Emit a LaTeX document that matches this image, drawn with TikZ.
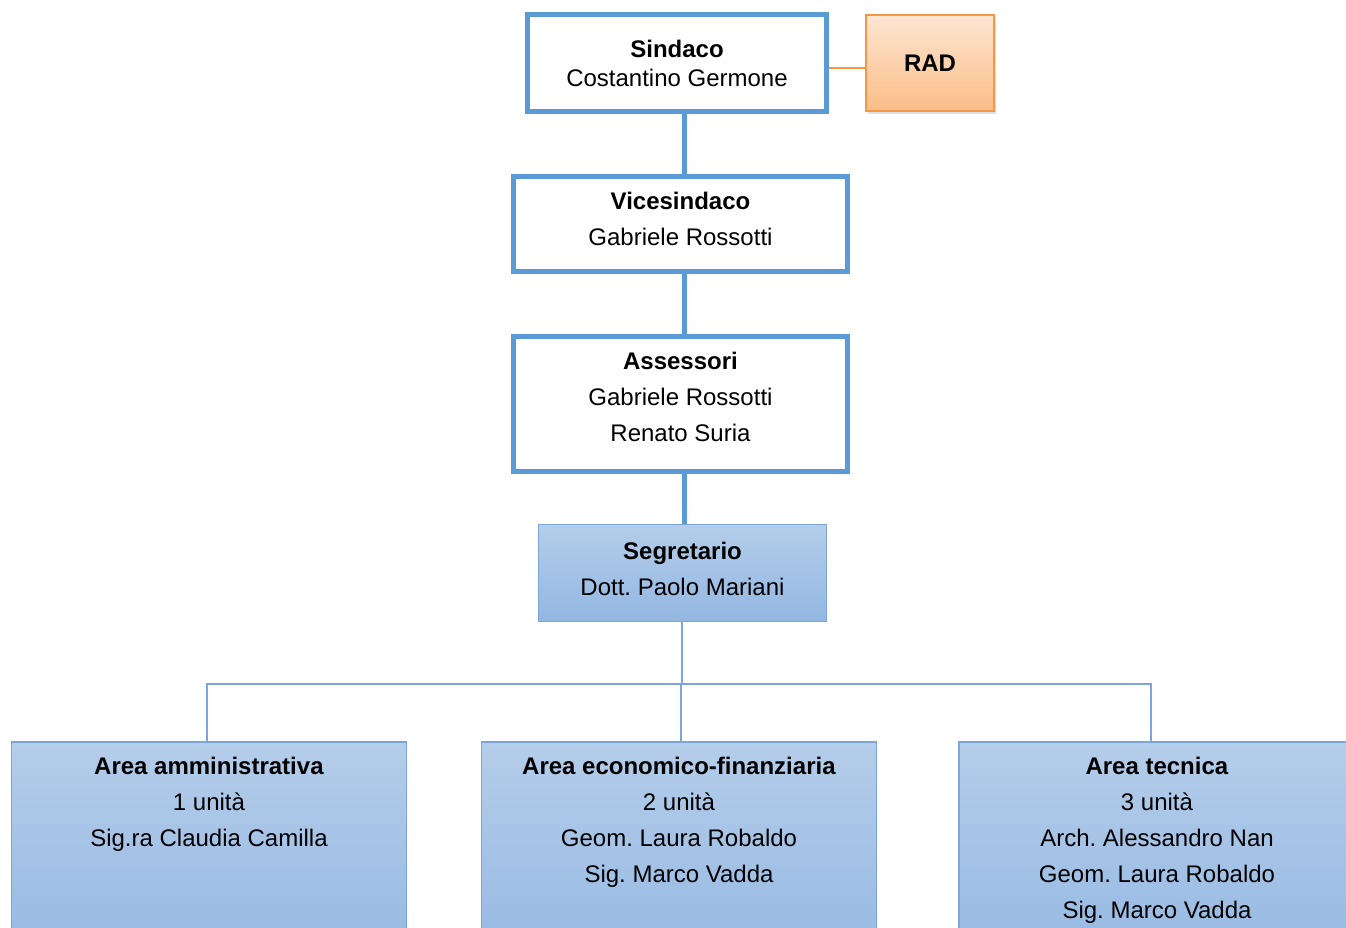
\documentclass[tikz,border=0pt]{standalone}
\usepackage{fontspec}
\setmainfont{Liberation Sans}
\usepackage{tikz}
\usetikzlibrary{positioning}
\usetikzlibrary{calc}
\usetikzlibrary{shadows}
\definecolor{boss}{HTML}{5B9BD5}
\definecolor{unittop}{HTML}{B4CDEA}
\definecolor{unitbot}{HTML}{93B7E2}
\definecolor{unitline}{HTML}{7CA6D9}
\definecolor{radtop}{HTML}{FDE6D3}
\definecolor{radbot}{HTML}{FBBD87}
\definecolor{radline}{HTML}{F79646}
\newcommand{\role}[1]{\textbf{#1}}
\frenchspacing

\begin{document}
\begin{tikzpicture}[x=1pt,y=-1pt,
  chief/.style 2 args={
    rectangle,
    draw=boss,
    line width=5pt,
    fill=white,
    minimum width=#1,
    minimum height=#2},
  unit/.style 2 args={
    rectangle,
    draw=unitline,
    line width=1.2pt,
    top color=unittop,
    bottom color=unitbot,
    minimum width=#1,
    minimum height=#2},
  radbox/.style={
    rectangle,
    draw=radline,
    line width=1.5pt,
    top color=radtop,
    bottom color=radbot,
    minimum width=128pt,
    minimum height=96pt,
    drop shadow={shadow xshift=2pt,shadow yshift=-3pt,opacity=0.25}},
  txt/.style={
    align=center,
    inner sep=0pt,
    font=\fontsize{24}{36}\selectfont},
  trunk/.style={draw=boss, line width=5pt},
  link/.style={draw=unitline, line width=1.2pt},
  radlink/.style={draw=radline, line width=1.8pt},
]

  \useasboundingbox[fill=white] (0,0) rectangle (1346,927);

  \coordinate (spine) at (684,0);%

    % Political bodies
  \node[chief={299pt}{97pt}] (sind) at (677,63) {};
  \node[txt,font=\fontsize{24}{29}\selectfont] (sindtxt) at (677,63.5)
      {\role{Sindaco}\\Costantino Germone};

  \node[radbox] (rad) at (930,63) {};
  \node[txt] (radtxt) at (930,63) {\role{RAD}};

  \node[chief={334pt}{95pt}] (vice) at (680.5,224) {};
  \node[txt] (vicetxt) at (680.5,219)
      {\role{Vicesindaco}\\Gabriele Rossotti};

  \node[chief={334pt}{135pt}] (ass) at (680.5,404) {};
  \node[txt] (asstxt) at (680.5,397)
      {\role{Assessori}\\Gabriele Rossotti\\Renato Suria};

    % Segretario
  \node[unit={288pt}{97pt}] (seg) at (682.5,573) {};
  \node[txt] (segtxt) at (682.5,569)
      {\role{Segretario}\\Dott. Paolo Mariani};

    % Areas
  \node[unit={395pt}{238pt}] (adm) at (209,861) {};
  \node[txt,anchor=north] (admtxt) at (209,757)
      {\role{Area amministrativa}\\1 unità\\Sig.ra Claudia Camilla};

  \node[unit={395pt}{238pt}] (eco) at (679,861) {};
  \node[txt,anchor=north] (ecotxt) at (679,757)
      {\role{Area economico-finanziaria}\\2 unità\\Geom. Laura Robaldo\\Sig. Marco Vadda};

  \node[unit={396pt}{238pt}] (tec) at (1157,861) {};
  \node[txt,anchor=north] (tectxt) at (1157,757)
      {\role{Area tecnica}\\3 unità\\Arch. Alessandro Nan\\Geom. Laura Robaldo\\Sig. Marco Vadda};

    % Connectors
  \draw[radlink] ([yshift=-5pt]sind.east) -- ([yshift=-5pt]rad.west);
  \draw[trunk] (sind.south -| spine) -- (vice.north -| spine);
  \draw[trunk] (vice.south -| spine) -- (ass.north -| spine);
  \draw[trunk] (ass.south -| spine) -- (seg.north -| spine);

  \coordinate (bus) at (682,684);
  \draw[link] (seg.south -| bus) -- (bus);
  \draw[link] ([xshift=-2pt]adm.north) |- (bus) -| ([xshift=-6pt]tec.north);
  \draw[link] (bus -| eco.north) ++(2,0) -- ([xshift=2pt]eco.north);

\end{tikzpicture}
\end{document}
